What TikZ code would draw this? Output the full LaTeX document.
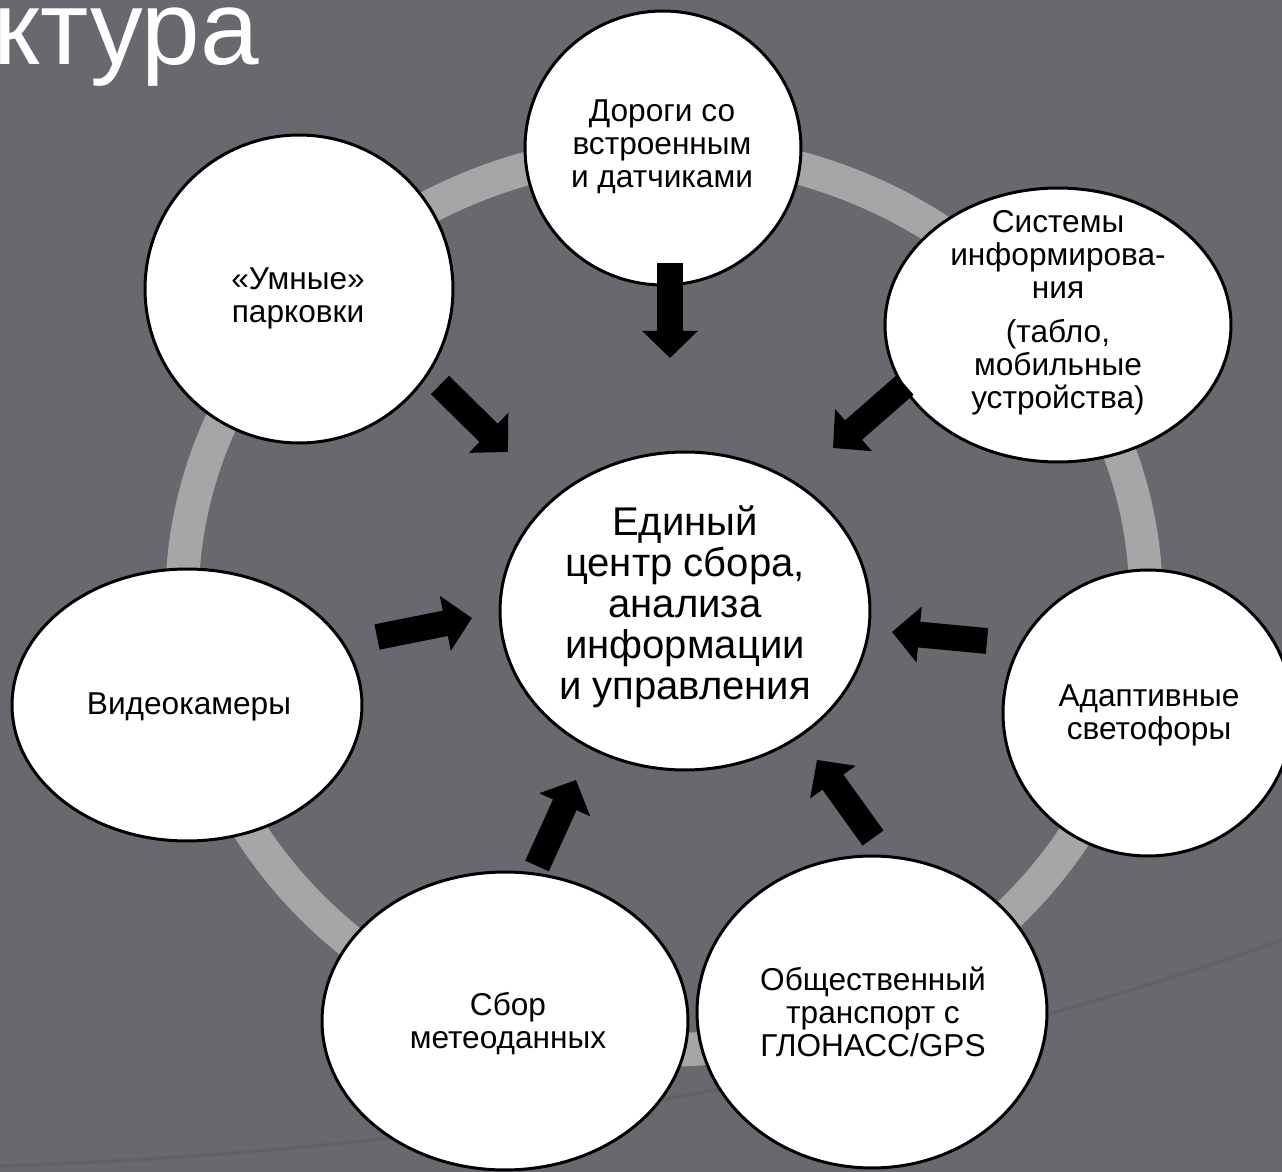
\documentclass[tikz,border=0pt]{standalone}
\usepackage{fontspec}
\setmainfont{Liberation Sans}
\usetikzlibrary{shapes.geometric, arrows.meta}
\definecolor{slidebg}{RGB}{106, 103, 110}
\definecolor{ringgray}{RGB}{166, 166, 166}

\begin{document}
\begin{tikzpicture}[x=0.02cm, y=-0.02cm,
    bubble/.style={draw=black, line width=1.7pt, fill=white, ellipse, inner sep=0pt},
    bubbletext/.style={align=center, inner sep=0pt, font=\fontsize{18}{18.8}\selectfont},
    hubtext/.style={align=center, inner sep=0pt, font=\fontsize{22.8}{23.3}\selectfont},
    feed/.style={line width=14.7pt, -{Triangle[width=31pt, length=15.5pt]}}]
  % Slide background
  \fill[slidebg] (0,0) rectangle (1282,1172);
  \useasboundingbox (0,0) rectangle (1282,1172);
  \draw[slidebg!85!black, line width=2pt, opacity=0.4] (0,1166) .. controls (500,1150) and (950,1060) .. (1282,940);

  % Title remnant
  \node[anchor=base west, inner sep=0pt, text=white, font=\fontsize{60}{62}\selectfont] (title) at (-7,65) {ктура};

  % Ring
  \draw[ringgray, line width=19pt] (664,600) ellipse [x radius=482, y radius=450];

  % Centre
  \node[bubble, minimum width=7.4cm, minimum height=6.36cm] (hub) at (685,611) {};
  \node[hubtext] (hub-txt) at (685,607) {Единый\\центр сбора,\\анализа\\информации\\и управления};

  % Outer sources
  \node[bubble, minimum width=5.52cm, minimum height=5.48cm] (roads) at (663,148) {};
  \node[bubbletext] (roads-txt) at (662,147) {Дороги со\\встроенным\\и датчиками};

  \node[bubble, minimum width=6.92cm, minimum height=5.48cm] (info) at (1058,325) {};
  \node[bubbletext] (info-txt) at (1058,313) {Системы\\информирова-\\ния\\[6pt](табло,\\мобильные\\устройства)};

  \node[bubble, minimum width=5.8cm, minimum height=5.72cm] (lights) at (1148,713) {};
  \node[bubbletext] (lights-txt) at (1149,715) {Адаптивные\\светофоры};

  \node[bubble, minimum width=7cm, minimum height=6.24cm] (transport) at (872,1012) {};
  \node[bubbletext] (transport-txt) at (873,1012) {Общественный\\транспорт с\\ГЛОНАСС/GPS};

  \node[bubble, minimum width=7.32cm, minimum height=5.96cm] (meteo) at (505,1021) {};
  \node[bubbletext] (meteo-txt) at (508,1024) {Сбор\\метеоданных};

  \node[bubble, minimum width=7cm, minimum height=5.44cm] (video) at (187,705) {};
  \node[bubbletext] (video-txt) at (189,707) {Видеокамеры};

  \node[bubble, minimum width=6.16cm, minimum height=6.16cm] (parking) at (299,289) {};
  \node[bubbletext] (parking-txt) at (298,298) {«Умные»\\парковки};

  % Arrows into the centre
  \coordinate (roads-out) at (670,263);     \coordinate (roads-in) at (670,358);
  \coordinate (info-out) at (905,385);      \coordinate (info-in) at (833,448);
  \coordinate (lights-out) at (987,641);    \coordinate (lights-in) at (892,632);
  \coordinate (transport-out) at (873,838); \coordinate (transport-in) at (817,760);
  \coordinate (meteo-out) at (537,866);     \coordinate (meteo-in) at (576,780);
  \coordinate (video-out) at (377,637);     \coordinate (video-in) at (472,618);
  \coordinate (parking-out) at (440,385);   \coordinate (parking-in) at (508,452);
  \foreach \src in {roads, info, lights, transport, meteo, video, parking}
    \draw[feed] (\src-out) -- (\src-in);
\end{tikzpicture}
\end{document}
